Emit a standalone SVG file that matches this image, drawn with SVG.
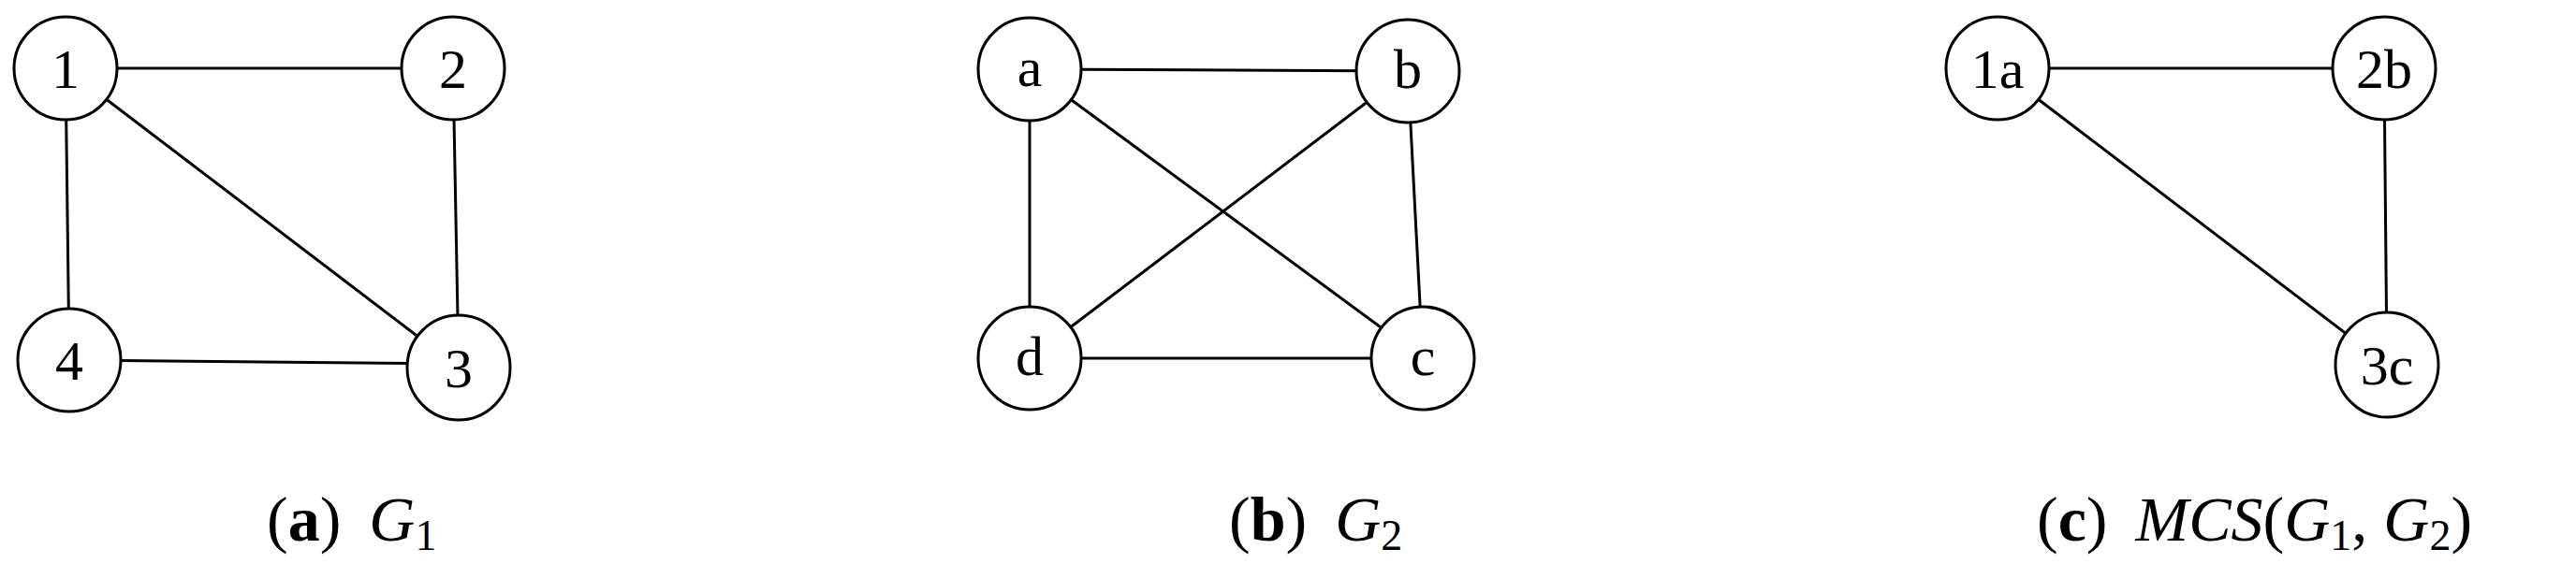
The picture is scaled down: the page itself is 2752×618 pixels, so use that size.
<svg xmlns="http://www.w3.org/2000/svg" width="2752" height="618" viewBox="0 0 2752 618">
<style>
.n ellipse{fill:#fff;stroke:#000;stroke-width:3}
.n text{font-family:"Liberation Serif",serif;font-size:60px;text-anchor:middle}
#edges line{stroke:#000;stroke-width:3}
.cap{font-family:"Liberation Serif",serif;font-size:68px}
</style>
<rect width="2752" height="618" fill="#fff"/>
<g id="edges">
<line x1="70" y1="73" x2="484" y2="73"/><line x1="70" y1="73" x2="74" y2="385"/><line x1="70" y1="73" x2="490" y2="393"/><line x1="484" y1="73" x2="490" y2="393"/><line x1="74" y1="385" x2="490" y2="389"/>
<line x1="1100" y1="74" x2="1504" y2="76"/><line x1="1100" y1="74" x2="1100" y2="383"/><line x1="1100" y1="74" x2="1520" y2="383"/><line x1="1504" y1="76" x2="1100" y2="383"/><line x1="1504" y1="76" x2="1520" y2="383"/><line x1="1100" y1="383" x2="1520" y2="383"/>
<line x1="2134" y1="73" x2="2547" y2="73"/><line x1="2134" y1="73" x2="2550" y2="390"/><line x1="2547" y1="73" x2="2550" y2="390"/>
</g>
<g id="n1" class="n"><ellipse cx="70" cy="73" rx="55" ry="55"/><text x="70" y="94">1</text></g>
<g id="n2" class="n"><ellipse cx="484" cy="73" rx="55" ry="55"/><text x="484" y="94">2</text></g>
<g id="n3" class="n"><ellipse cx="490" cy="393" rx="55" ry="56"/><text x="490" y="414">3</text></g>
<g id="n4" class="n"><ellipse cx="74" cy="385" rx="55" ry="55"/><text x="74" y="406">4</text></g>
<g id="na" class="n"><ellipse cx="1100" cy="74" rx="55" ry="55"/><text x="1100" y="92">a</text></g>
<g id="nb" class="n"><ellipse cx="1504" cy="76" rx="55" ry="55"/><text x="1504" y="94">b</text></g>
<g id="nc" class="n"><ellipse cx="1520" cy="383" rx="55" ry="55"/><text x="1520" y="401">c</text></g>
<g id="nd" class="n"><ellipse cx="1100" cy="383" rx="55" ry="55"/><text x="1100" y="401">d</text></g>
<g id="n1a" class="n"><ellipse cx="2134" cy="73" rx="55" ry="55"/><text x="2134" y="94">1a</text></g>
<g id="n2b" class="n"><ellipse cx="2547" cy="73" rx="55" ry="55"/><text x="2547" y="94">2b</text></g>
<g id="n3c" class="n"><ellipse cx="2550" cy="390" rx="55" ry="56"/><text x="2550" y="411">3c</text></g>
<text class="cap" x="285" y="578">(<tspan font-weight="bold">a</tspan>)<tspan dx="30" font-style="italic">G</tspan><tspan font-size="46" dy="10">1</tspan></text>
<text class="cap" x="1313" y="578">(<tspan font-weight="bold">b</tspan>)<tspan dx="30" font-style="italic">G</tspan><tspan font-size="46" dy="10">2</tspan></text>
<text class="cap" x="2176" y="578">(<tspan font-weight="bold">c</tspan>)<tspan dx="30" font-style="italic">MCS</tspan>(<tspan font-style="italic">G</tspan><tspan font-size="46" dy="10">1</tspan><tspan dy="-10">, </tspan><tspan font-style="italic">G</tspan><tspan font-size="46" dy="10">2</tspan><tspan dy="-10">)</tspan></text>
</svg>
